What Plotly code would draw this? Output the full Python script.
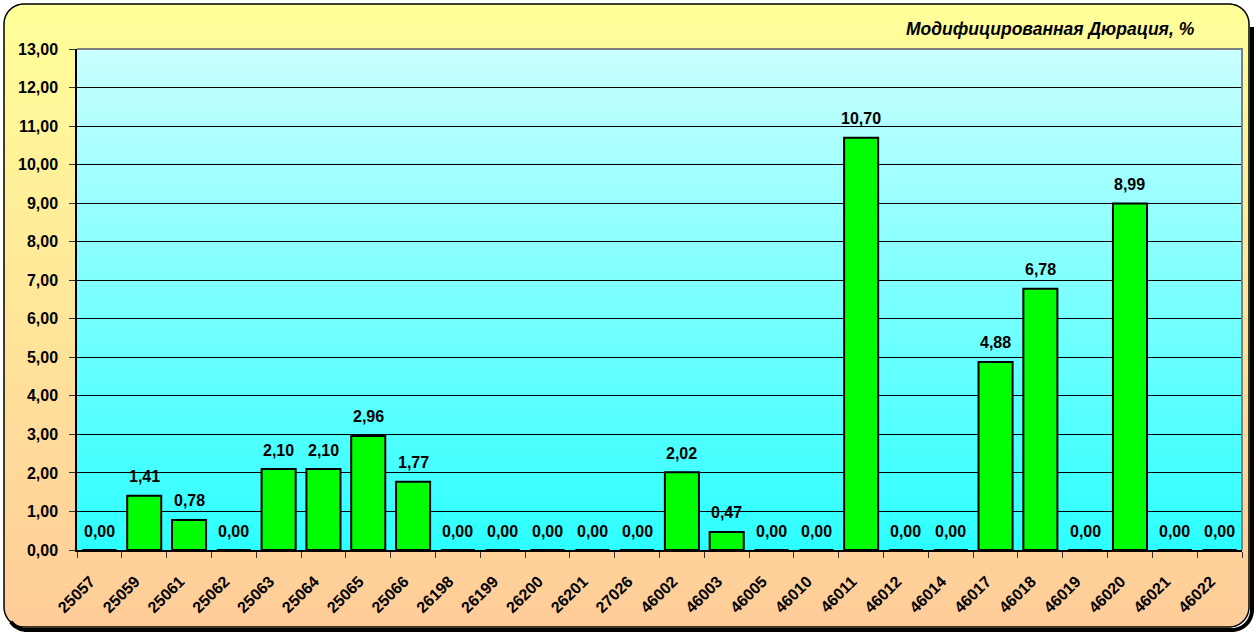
import plotly.graph_objects as go
import math

# ---------------- data ----------------
categories = ["25057", "25059", "25061", "25062", "25063", "25064", "25065", "25066",
              "26198", "26199", "26200", "26201", "27026", "46002", "46003", "46005",
              "46010", "46011", "46012", "46014", "46017", "46018", "46019", "46020",
              "46021", "46022"]
durations = [0.00, 1.41, 0.78, 0.00, 2.10, 2.10, 2.96, 1.77,
             0.00, 0.00, 0.00, 0.00, 0.00, 2.02, 0.47, 0.00,
             0.00, 10.70, 0.00, 0.00, 4.88, 6.78, 0.00, 8.99,
             0.00, 0.00]
chart_title = "Модифицированная Дюрация, %"
y_max = 13

# ---------------- geometry (pixels) ----------------
W_PX, H_PX = 1259, 632
L, R, T, B = 77, 1242, 49, 550
PW, PH = R - L, B - T


def px(x):
    return (x - L) / PW


def py(y):
    return (B - y) / PH


FONT = "Arial, 'Liberation Sans', sans-serif"
shapes = []

# outer gradient background (yellow -> peach)
FX0, FY0, FX1, FY1 = 4, 4, 1249, 627
N = 120
for i in range(N):
    y0 = FY0 + (FY1 - FY0) * i / N
    y1 = FY0 + (FY1 - FY0) * (i + 1) / N + 0.8
    t = (i + 0.5) / N
    g = round(255 - 51 * t)
    shapes.append(dict(type="rect", xref="paper", yref="paper", layer="below",
                       x0=px(FX0), x1=px(FX1), y0=py(y0), y1=py(y1),
                       line=dict(width=0), fillcolor=f"rgb(255,{g},153)"))

# plot area gradient (light cyan -> cyan)
N2 = 100
for i in range(N2):
    y0 = T + PH * i / N2
    y1 = T + PH * (i + 1) / N2 + 0.8
    t = (i + 0.5) / N2
    r = round(202 - 158 * t)
    shapes.append(dict(type="rect", xref="paper", yref="paper", layer="below",
                       x0=0, x1=1, y0=py(y0), y1=py(min(y1, B)),
                       line=dict(width=0), fillcolor=f"rgb({r},255,255)"))

# rounded corners: white masks
RAD = 20


def arc(cx, cy, a0, a1, n=24):
    pts = []
    for k in range(n + 1):
        a = a0 + (a1 - a0) * k / n
        pts.append((cx + RAD * math.cos(a), cy + RAD * math.sin(a)))
    return pts


def path_from(pts, close=True):
    s = "M " + " L ".join(f"{px(x):.6f},{py(y):.6f}" for x, y in pts)
    return s + (" Z" if close else "")


corners = [
    ((FX0 - 2, FY0 - 2), (FX0 + RAD, FY0 + RAD), math.pi, 1.5 * math.pi),
    ((FX1 + 2, FY0 - 2), (FX1 - RAD, FY0 + RAD), 1.5 * math.pi, 2 * math.pi),
    ((FX1 + 2, FY1 + 2), (FX1 - RAD, FY1 - RAD), 0, 0.5 * math.pi),
    ((FX0 - 2, FY1 + 2), (FX0 + RAD, FY1 - RAD), 0.5 * math.pi, math.pi),
]
for corner, (cx, cy), a0, a1 in corners:
    pts = [corner] + arc(cx, cy, a0, a1)
    shapes.append(dict(type="path", xref="paper", yref="paper", layer="below",
                       path=path_from(pts), fillcolor="white", line=dict(width=0)))

# shadow (right + bottom)
D = 3
sh = [(FX1 + D, FY0 + RAD + D)]
sh += arc(FX1 - RAD + D, FY1 - RAD + D, 0, 0.5 * math.pi)
sh += arc(FX0 + RAD + D, FY1 - RAD + D, 0.5 * math.pi, 0.8 * math.pi, 10)
shapes.append(dict(type="path", xref="paper", yref="paper", layer="below",
                   path=path_from(sh, close=False), line=dict(color="black", width=4)))

# frame border
fr = []
fr += arc(FX0 + RAD, FY0 + RAD, math.pi, 1.5 * math.pi)
fr += arc(FX1 - RAD, FY0 + RAD, 1.5 * math.pi, 2 * math.pi)
fr += arc(FX1 - RAD, FY1 - RAD, 0, 0.5 * math.pi)
fr += arc(FX0 + RAD, FY1 - RAD, 0.5 * math.pi, math.pi)
shapes.append(dict(type="path", xref="paper", yref="paper", layer="below",
                   path=path_from(fr), line=dict(color="black", width=1.5)))

# plot area border top/right (gray)
shapes.append(dict(type="path", xref="paper", yref="paper", layer="above",
                   path="M 1,0 L 1,1 L 0,1", line=dict(color="#808080", width=2)))

# ---------------- figure ----------------
fig = go.Figure()
fig.add_trace(go.Bar(
    x=categories, y=durations,
    marker=dict(color="#00FF00", line=dict(color="black", width=2)),
    hoverinfo="x+y",
))

annotations = []
for i, v in enumerate(durations):
    annotations.append(dict(
        x=i, y=v, xref="x", yref="y", text=f"{v:.2f}".replace(".", ","),
        showarrow=False, yshift=19, yanchor="middle",
        font=dict(family=FONT, size=16, color="black", weight="bold")))
annotations.append(dict(
    x=px(1197), y=py(29), xref="paper", yref="paper", text=chart_title,
    showarrow=False, xanchor="right", yanchor="middle",
    font=dict(family=FONT, size=17.5, color="black", weight="bold", style="italic")))

fig.update_layout(
    width=W_PX, height=H_PX, autosize=False,
    margin=dict(l=L, r=W_PX - R, t=T, b=H_PX - B, pad=0),
    paper_bgcolor="white", plot_bgcolor="rgba(0,0,0,0)",
    separators=", ",
    bargap=0.24,
    showlegend=False,
    shapes=shapes,
    annotations=annotations,
    font=dict(family=FONT, color="black"),
)
fig.update_xaxes(
    type="category", categoryorder="array", categoryarray=categories,
    range=[-0.5, len(categories) - 0.5], autorange=False,
    tickson="boundaries", ticks="outside", ticklen=6,
    tickcolor="#333333", tickwidth=1,
    ticklabelstandoff=14, ticklabelshift=-9,
    showline=True, linecolor="black", linewidth=1.5, showgrid=False,
    tickangle=-45, tickfont=dict(family=FONT, size=16, color="black", weight="bold"),
)
fig.update_yaxes(
    range=[0, y_max], autorange=False, dtick=1, tick0=0, tickformat=".2f",
    ticks="outside", ticklen=6, tickcolor="#333333", tickwidth=1,
    ticklabelstandoff=8,
    showline=True, linecolor="black", linewidth=1.5,
    showgrid=True, gridcolor="black", gridwidth=1, zeroline=False,
    tickfont=dict(family=FONT, size=16, color="black", weight="bold"),
)

fig.write_html("out.html", config={"displayModeBar": False},
               post_script="document.body.style.margin='0';document.body.style.padding='0';")
